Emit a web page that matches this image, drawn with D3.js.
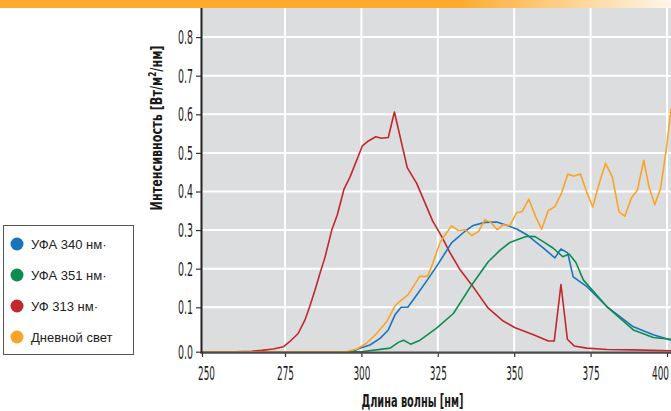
<!DOCTYPE html>
<html>
<head>
<meta charset="utf-8">
<script src="https://cdn.jsdelivr.net/npm/d3@7"></script>
<style>
  html, body { margin: 0; padding: 0; background: #fff; }
  svg { display: block; }
</style>
</head>
<body>
<svg id="chart" width="671" height="411"></svg>
<script>
// ---- data ----
const xTicks = [250, 275, 300, 325, 350, 375, 400];
const yTicks = [0, 0.1, 0.2, 0.3, 0.4, 0.5, 0.6, 0.7, 0.8];
const yTickLabels = ["0.0", "0.1", "0.2", "0.3", "0.4", "0.5", "0.6", "0.7", "0.8"];

const seriesNames = ["УФА 340 нм·", "УФА 351 нм·", "УФ 313 нм·", "Дневной свет"];
const seriesColors = ["#1b74ba", "#0c8d4e", "#c1272d", "#f8a428"];

const uf313Wl = [250, 260, 265, 268, 271.5, 274.5, 276.6, 279.3, 281.5, 283.1, 284.8, 286.4, 288.1, 290.3, 292.1, 294.3, 296.3, 300.3, 302.3, 304.7, 306.6, 308.8, 310.8, 315.0, 318.1, 323.3, 326.3, 328.8, 332.3, 336.1, 341.5, 346.4, 350.3, 356.3, 361.2, 363.1, 365.3, 367.4, 369.6, 373.7, 380.3, 389, 401.3];
const uf313Val = [0, 0, 0.001, 0.003, 0.006, 0.011, 0.023, 0.041, 0.071, 0.102, 0.144, 0.187, 0.230, 0.300, 0.339, 0.406, 0.438, 0.518, 0.531, 0.542, 0.538, 0.540, 0.606, 0.462, 0.421, 0.324, 0.283, 0.244, 0.197, 0.158, 0.098, 0.069, 0.054, 0.038, 0.024, 0.024, 0.159, 0.028, 0.013, 0.008, 0.005, 0.004, 0.002];

const ufa340Wl = [250, 297, 299.5, 302.8, 306.1, 308.8, 311.0, 313.0, 315.2, 318.1, 321.6, 324.6, 329.5, 333.9, 336.6, 340.4, 344.3, 347.7, 350.8, 354.1, 356.8, 359.5, 363.3, 365.3, 367.5, 369.3, 373.7, 380.3, 389, 395.5, 401.3];
const ufa340Val = [0, 0, 0.008, 0.015, 0.030, 0.049, 0.083, 0.100, 0.100, 0.132, 0.171, 0.206, 0.267, 0.297, 0.312, 0.320, 0.321, 0.312, 0.303, 0.288, 0.271, 0.254, 0.228, 0.251, 0.241, 0.179, 0.154, 0.102, 0.056, 0.038, 0.026];

const ufa351Wl = [250, 300, 309.4, 312.1, 313.8, 316.1, 319.2, 324.6, 330.1, 336.1, 341.5, 345.4, 348.6, 351.4, 354.1, 356.8, 359.5, 362.8, 365.9, 368.0, 370.2, 372.6, 380.3, 389.0, 395.5, 401.3];
const ufa351Val = [0, 0, 0.008, 0.021, 0.026, 0.017, 0.026, 0.053, 0.086, 0.158, 0.218, 0.248, 0.268, 0.276, 0.284, 0.283, 0.270, 0.253, 0.231, 0.238, 0.216, 0.171, 0.102, 0.049, 0.032, 0.028];

const dayWl = [250, 295, 298.5, 301.7, 305.0, 308.3, 311.0, 313.2, 315.3, 319.1, 321.6, 323.0, 325.7, 327.4, 329.5, 331.7, 333.9, 336.1, 338.3, 340.4, 342.4, 344.5, 346.4, 348.6, 350.8, 352.6, 354.8, 357.0, 359.0, 361.1, 363.3, 365.5, 367.5, 369.5, 371.7, 373.7, 375.7, 377.8, 379.9, 382.1, 384.3, 386.2, 388.4, 390.3, 392.4, 394.1, 396.0, 397.9, 399.9, 401.3];
const dayVal = [0, 0, 0.006, 0.019, 0.041, 0.068, 0.104, 0.120, 0.133, 0.180, 0.180, 0.206, 0.267, 0.288, 0.311, 0.299, 0.301, 0.286, 0.296, 0.327, 0.320, 0.301, 0.314, 0.312, 0.345, 0.348, 0.380, 0.335, 0.302, 0.350, 0.361, 0.396, 0.445, 0.440, 0.445, 0.399, 0.360, 0.421, 0.473, 0.438, 0.347, 0.336, 0.384, 0.403, 0.481, 0.412, 0.366, 0.408, 0.516, 0.615];

// ---- layout ----
const svg = d3.select("#chart");
const W = 671, H = 411;
const plot = { left: 202, top: 8, right: 671, bottom: 352 };

// piecewise scales (the reference axis is slightly irregular near the origin)
const x = d3.scaleLinear().domain([250, 275, 400]).range([202, 285, 667]);
const y = d3.scaleLinear().domain([0, 0.1, 0.7]).range([351.7, 307.3, 75.7]);

// top bar
const defs = svg.append("defs");
const grad = defs.append("linearGradient").attr("id", "topbar").attr("x1", "0").attr("x2", "1").attr("y1", "0").attr("y2", "0");
grad.append("stop").attr("offset", "0%").attr("stop-color", "#fdaa2d");
grad.append("stop").attr("offset", "68%").attr("stop-color", "#fdaa2d");
grad.append("stop").attr("offset", "100%").attr("stop-color", "#fff6e9");
svg.append("rect").attr("x", 0).attr("y", 0).attr("width", W).attr("height", 8).attr("fill", "url(#topbar)");

defs.append("clipPath").attr("id", "clip").append("rect")
  .attr("x", plot.left).attr("y", plot.top)
  .attr("width", plot.right - plot.left).attr("height", plot.bottom - plot.top + 2);

// plot background
svg.append("rect").attr("x", plot.left).attr("y", plot.top)
  .attr("width", plot.right - plot.left).attr("height", plot.bottom - plot.top)
  .attr("fill", "#dcdddf");

// grid
const grid = svg.append("g");
grid.selectAll("line.v").data(xTicks.slice(1)).join("line")
  .attr("x1", d => x(d)).attr("x2", d => x(d))
  .attr("y1", plot.top).attr("y2", plot.bottom)
  .attr("stroke", "#fff").attr("stroke-width", 2);
grid.selectAll("line.h").data(yTicks.slice(1)).join("line")
  .attr("x1", plot.left).attr("x2", plot.right)
  .attr("y1", d => y(d)).attr("y2", d => y(d))
  .attr("stroke", "#fff").attr("stroke-width", 2);

// lines
const series = [
  { wl: uf313Wl, val: uf313Val, color: seriesColors[2] },
  { wl: ufa340Wl, val: ufa340Val, color: seriesColors[0] },
  { wl: ufa351Wl, val: ufa351Val, color: seriesColors[1] },
  { wl: dayWl, val: dayVal, color: seriesColors[3] }
];
const line = d3.line().x(d => x(d[0])).y(d => y(d[1]));
const lines = svg.append("g").attr("clip-path", "url(#clip)");
series.forEach(s => {
  lines.append("path")
    .datum(s.wl.map((w, i) => [w, s.val[i]]))
    .attr("d", line)
    .attr("fill", "none")
    .attr("stroke", s.color)
    .attr("stroke-width", 1.6)
    .attr("stroke-linejoin", "round");
});

const tickFont = "'Liberation Sans Narrow', 'DejaVu Sans Condensed', 'Roboto Condensed', sans-serif";

// y axis
const yAxis = svg.append("g").attr("transform", `translate(${plot.left},0)`)
  .call(d3.axisLeft(y).tickValues(yTicks).tickFormat((d, i) => yTickLabels[i]).tickSize(6).tickPadding(3));
yAxis.attr("font-size", null).attr("font-family", null);
yAxis.select(".domain").remove();
yAxis.selectAll(".tick line").attr("stroke", "#333").attr("stroke-width", 1.2);
yAxis.selectAll("text")
  .style("font-family", tickFont).style("font-size", "20px").attr("fill", "#1e1e1e")
  .attr("textLength", 15).attr("lengthAdjust", "spacingAndGlyphs");

// x axis
const xAxis = svg.append("g").attr("transform", `translate(0,${plot.bottom})`)
  .call(d3.axisBottom(x).tickValues(xTicks).tickFormat(d3.format("d")).tickSize(5).tickPadding(9));
xAxis.attr("font-size", null).attr("font-family", null);
xAxis.select(".domain").remove();
xAxis.selectAll(".tick line").attr("stroke", "#333").attr("stroke-width", 1.2);
xAxis.selectAll("text")
  .style("font-family", tickFont).style("font-size", "20px").attr("fill", "#1e1e1e")
  .attr("textLength", 17).attr("lengthAdjust", "spacingAndGlyphs")
  .attr("dx", (d, i) => i === 0 ? 4 : (i === xTicks.length - 1 ? -7 : 0));

// axis lines
svg.append("line").attr("x1", plot.left).attr("x2", plot.right)
  .attr("y1", plot.bottom + 0.7).attr("y2", plot.bottom + 0.7)
  .attr("stroke", "#4a4a4a").attr("stroke-width", 2.2);
svg.append("line").attr("x1", plot.left - 0.5).attr("x2", plot.left - 0.5)
  .attr("y1", plot.top).attr("y2", plot.bottom + 1.8)
  .attr("stroke", "#222").attr("stroke-width", 2);

// axis titles
const titleFont = "'Liberation Sans Narrow', 'DejaVu Sans Condensed', sans-serif";
svg.append("text")
  .attr("x", 412.5).attr("y", 407)
  .attr("text-anchor", "middle")
  .style("font-family", titleFont).style("font-weight", "bold").style("font-size", "17px")
  .attr("fill", "#1a1a1a")
  .attr("textLength", 102).attr("lengthAdjust", "spacingAndGlyphs")
  .text("Длина волны [нм]");

const yt = svg.append("text")
  .attr("transform", "translate(162,128) rotate(-90)")
  .attr("text-anchor", "middle")
  .style("font-family", titleFont).style("font-weight", "bold").style("font-size", "15px")
  .attr("fill", "#1a1a1a")
  .attr("textLength", 165).attr("lengthAdjust", "spacingAndGlyphs");
yt.append("tspan").text("Интенсивность [Вт/м");
yt.append("tspan").style("font-size", "10px").attr("dy", -6).text("2");
yt.append("tspan").attr("dy", 6).text("/нм]");

// legend
const lg = svg.append("g");
lg.append("rect").attr("x", 3.5).attr("y", 225.5).attr("width", 130).attr("height", 129)
  .attr("fill", "#fff").attr("stroke", "#555").attr("stroke-width", 1);
const legendOrder = [0, 1, 2, 3];
const legendY = d3.scalePoint().domain(legendOrder).range([244, 337]);
legendOrder.forEach(i => {
  lg.append("circle").attr("cx", 17).attr("cy", legendY(i)).attr("r", 6.5).attr("fill", seriesColors[i]);
  lg.append("text").attr("x", 31).attr("y", legendY(i) + 4.6)
    .style("font-family", "'Liberation Sans', Arial, sans-serif").style("font-size", "13px")
    .attr("fill", "#222").text(seriesNames[i]);
});
</script>
</body>
</html>
